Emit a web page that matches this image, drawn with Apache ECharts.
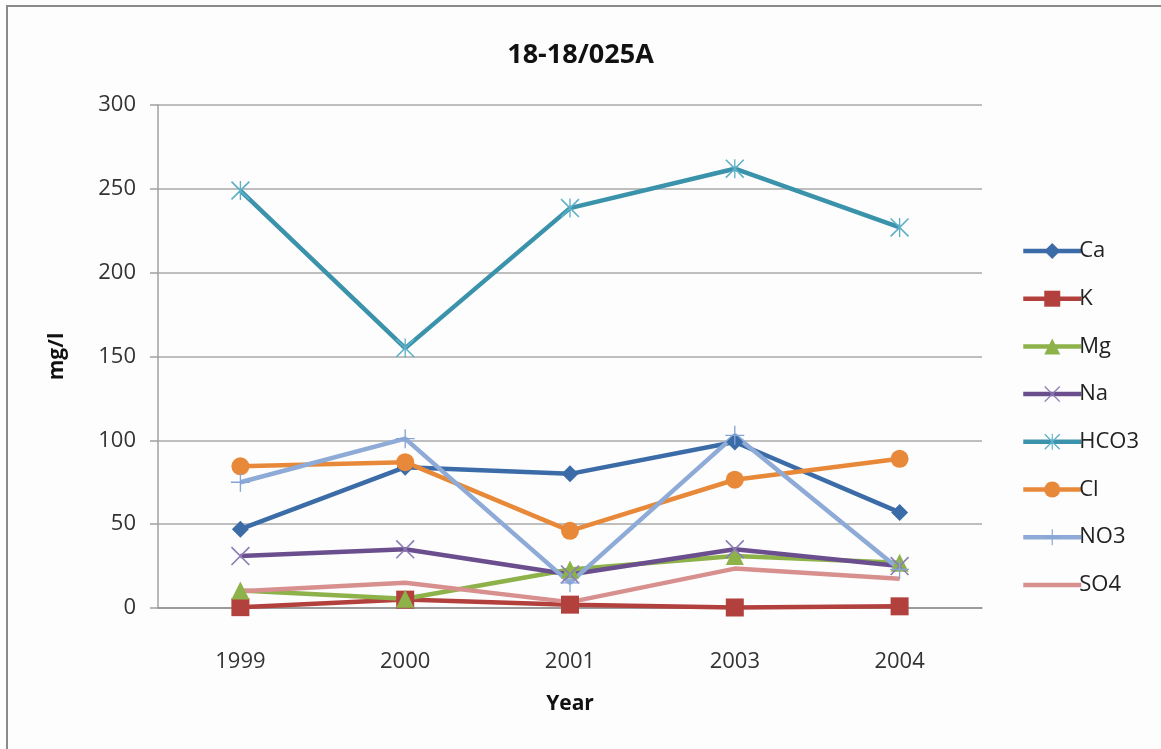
<!DOCTYPE html>
<html>
<head>
<meta charset="utf-8">
<script src="https://cdn.jsdelivr.net/npm/echarts@6/dist/echarts.min.js"></script>
<style>
  html, body { margin: 0; padding: 0; background: #fdfdfd; }
  #chart { width: 1161px; height: 749px; }
</style>
</head>
<body>
<div id="chart"></div>
<script>
// Water chemistry of well 18-18/025A, concentrations in mg/l
const years = ['1999', '2000', '2001', '2003', '2004'];
const yTicks = [0, 50, 100, 150, 200, 250, 300];

const ca   = [47, 84, 80, 99, 57];
const k    = [0.5, 5, 2, 0.3, 1];
const mg   = [10.5, 5.5, 23, 31, 27];
const na   = [31, 35, 20, 35, 25];
const hco3 = [249, 155, 238.5, 262, 227];
const cl   = [84.5, 87, 46, 76.5, 89];
const no3  = [75, 101, 15, 103, 23];
const so4  = [10, 15, 3.5, 23.5, 17.5];

// thin-stroke marker shapes built as filled paths
const xMark = 'path://M0,1.2 L1.2,0 L20,18.8 L18.8,20 Z M18.8,0 L20,1.2 L1.2,20 L0,18.8 Z';
const starMark = xMark + ' M9.3,0 L10.7,0 L10.7,20 L9.3,20 Z';
const plusMark = 'path://M9.3,0 L10.7,0 L10.7,20 L9.3,20 Z M0,9.3 L20,9.3 L20,10.7 L0,10.7 Z';

function line(name, data, lineColor, symbol, size, markColor) {
  return {
    name: name,
    type: 'line',
    data: data,
    symbol: symbol,
    symbolSize: size,
    showSymbol: symbol !== 'none',
    lineStyle: { color: lineColor, width: 4.5 },
    itemStyle: { color: markColor || lineColor },
    emphasis: { disabled: true },
    animation: false
  };
}

const chart = echarts.init(document.getElementById('chart'));
chart.setOption({
  backgroundColor: '#fdfdfd',
  textStyle: { fontFamily: 'Open Sans' },
  title: {
    text: '18-18/025A',
    left: 'center',
    top: 37,
    textStyle: { fontFamily: 'Open Sans', fontSize: 27, fontWeight: 'bold', color: '#111' }
  },
  graphic: [{
    type: 'rect',
    shape: { x: 7, y: 6, width: 1300, height: 900 },
    style: { fill: null, stroke: '#8a8a8a', lineWidth: 2 },
    silent: true
  }],
  legend: {
    orient: 'vertical',
    left: 1016,
    top: 235,
    itemWidth: 58,
    itemHeight: 20,
    itemGap: 25.7,
    lineStyle: { width: 4.5 },
    textStyle: { fontFamily: 'Open Sans', fontSize: 22, color: '#222', padding: [0, 0, 0, -7] },
    data: ['Ca', 'K', 'Mg', 'Na', 'HCO3', 'Cl', 'NO3',
      { name: 'SO4', itemStyle: { color: 'rgba(0,0,0,0)', borderWidth: 0 } }]
  },
  grid: { left: 158, right: 179, top: 105, bottom: 141 },
  xAxis: {
    type: 'category',
    data: years,
    boundaryGap: true,
    name: 'Year',
    nameLocation: 'middle',
    nameGap: 86,
    nameTextStyle: { fontFamily: 'Open Sans', fontSize: 21, fontWeight: 'bold', color: '#111' },
    axisLine: { lineStyle: { color: '#909090', width: 1.5 } },
    axisTick: { show: false },
    axisLabel: { fontSize: 22, color: '#333', margin: 43 }
  },
  yAxis: {
    type: 'value',
    min: yTicks[0],
    max: yTicks[yTicks.length - 1],
    interval: 50,
    name: 'mg/l',
    nameLocation: 'middle',
    nameGap: 90,
    nameRotate: 90,
    nameTextStyle: { fontFamily: 'Open Sans', fontSize: 21, fontWeight: 'bold', color: '#111' },
    axisLine: { show: true, lineStyle: { color: '#a0a0a0', width: 1.5 } },
    axisTick: { show: true, length: 8, lineStyle: { color: '#a0a0a0', width: 1.5 } },
    splitLine: { lineStyle: { color: '#a8a8a8', width: 1.5 } },
    axisLabel: { fontSize: 22, color: '#333', margin: 22 }
  },
  series: [
    line('Ca', ca, '#3c6ca8', 'diamond', 17),
    line('K', k, '#b2403c', 'rect', 18),
    line('Mg', mg, '#8db24a', 'triangle', 18),
    line('Na', na, '#6a4e8e', xMark, 19, '#8c7cb4'),
    line('HCO3', hco3, '#3a93aa', starMark, 19, '#5eb0c8'),
    line('Cl', cl, '#e8893a', 'circle', 18),
    line('NO3', no3, '#8eaad6', plusMark, 19, '#86a4d8'),
    line('SO4', so4, '#d8908e', 'none', 0)
  ]
});
</script>
</body>
</html>
